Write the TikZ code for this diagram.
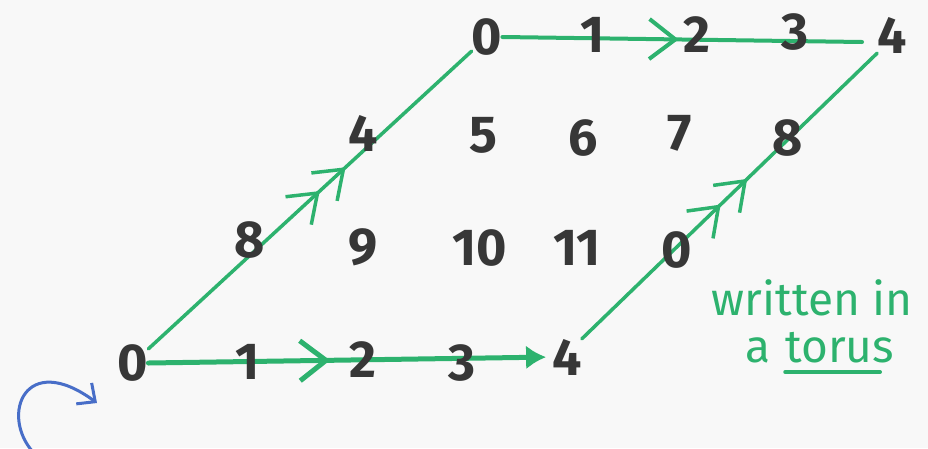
\documentclass[tikz,border=0pt]{standalone}
\usepackage{fontspec}
\setmainfont{Fira Sans}
\usetikzlibrary{arrows.meta,decorations.markings}
\definecolor{pen}{RGB}{45,178,110}
\definecolor{ink}{RGB}{55,55,55}
\definecolor{bluepen}{RGB}{72,110,200}
\definecolor{paper}{RGB}{248,248,248}
\pgfdeclarelayer{bg}
\pgfsetlayers{bg,main}
\begin{document}
\begin{tikzpicture}[x=1pt,y=-1pt,
  num/.style={font=\fontsize{52}{56}\selectfont\bfseries, text=ink, inner sep=0pt},
  gtext/.style={font=\fontsize{46}{50}\selectfont, text=pen, inner sep=0pt},
  gline/.style={color=pen, line width=4pt, line cap=round, line join=round},
  chev/.style={postaction={decorate,decoration={markings,
    mark=at position #1 with {\arrow{Straight Barb[length=26pt,width=40pt]}}}}},
  dchev/.style n args={2}{postaction={decorate,decoration={markings,
    mark=at position #1 with {\arrow{Straight Barb[length=26pt,width=38pt]}},
    mark=at position #2 with {\arrow{Straight Barb[length=26pt,width=38pt]}}}}}
]
\useasboundingbox (0,0) rectangle (928,448);
\begin{pgfonlayer}{bg}
  \fill[paper] (0,0) rectangle (928,448);
\end{pgfonlayer}
% numbers
\node[num] (b0) at (133,363) {0};
\node[num] (b1) at (248,362) {1};
\node[num] (b2) at (363,360) {2};
\node[num] (b3) at (462,363) {3};
\node[num] (b4) at (567,357) {4};
\node[num] (m8) at (250,240) {8};
\node[num] (m9) at (363,247) {9};
\node[num] (m10) at (480,248) {10};
\node[num] (m11) at (577,248) {11};
\node[num] (m0) at (677,250) {0};
\node[num] (u4) at (363,133) {4};
\node[num] (u5) at (483,135) {5};
\node[num] (u6) at (583,138) {6};
\node[num] (u7) at (680,133) {7};
\node[num] (u8) at (788,138) {8};
\node[num] (t0) at (487,37) {0};
\node[num] (t1) at (593,35) {1};
\node[num] (t2) at (697,35) {2};
\node[num] (t3) at (795,32) {3};
\node[num] (t4) at (892,35) {4};
\coordinate (tend) at (862,42);
% green text
\node[gtext] (w1) at (812,298) {written in};
\node[gtext, anchor=base west] (tor) at (785,362) {torus};
\node[gtext, anchor=base east] (wa) at ([xshift=-14pt]tor.base west) {a};
% lines
\begin{pgfonlayer}{bg}
  \draw[gline, line width=5pt, chev=0.45, -{Latex[length=20pt,width=24pt]}, shorten >=6pt] (b0.east) -- (b4.west);
  \draw[gline, line width=3.5pt, dchev={0.53}{0.61}] (b0) -- (t0);
  \draw[gline, line width=3.5pt, dchev={0.47}{0.56}] (b4.north east) -- (t4.south west);
  \draw[gline, chev=0.49] (t0.east) -- (tend);
\end{pgfonlayer}
\draw[pen, line width=3.5pt, line cap=round] ([yshift=-10pt]tor.base west) -- ([xshift=-14pt,yshift=-10pt]tor.base east);
% blue arrow
\coordinate (a0) at (33,452);
\coordinate (a1) at (97,403);
\draw[bluepen, line width=3pt, line cap=round, -{Straight Barb[length=14pt,width=26pt]}] (a0) .. controls (0,415) and (25,350) .. (a1);
\end{tikzpicture}
\end{document}
